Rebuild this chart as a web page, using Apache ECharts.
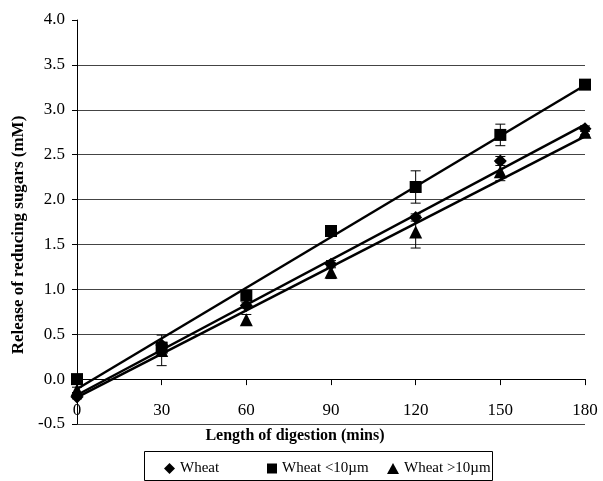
<!DOCTYPE html>
<html>
<head>
<meta charset="utf-8">
<script src="https://cdn.jsdelivr.net/npm/echarts@6/dist/echarts.min.js"></script>
<style>
  html, body { margin: 0; padding: 0; background: #fff; }
  #main { width: 603px; height: 481px; }
</style>
</head>
<body>
<div id="main"></div>
<script>
// digestion time (mins)
var times = [0, 30, 60, 90, 120, 150, 180];

// sugar release (mM)
var wheat      = [-0.2, 0.38, 0.82, 1.28, 1.80, 2.43, 2.79];
var wheatFine  = [0.0, 0.35, 0.93, 1.65, 2.14, 2.72, 3.28];
var wheatCoarse = [-0.12, 0.32, 0.66, 1.19, 1.64, 2.31, 2.75];

// error bar half-widths
var wheatErr       = [0.02, 0.03, 0.03, 0.04, 0.04, 0.05, 0.03];
var wheatFineErr   = [0.03, 0.03, 0.05, 0.04, 0.18, 0.12, 0.04];
var wheatCoarseErr = [0.03, 0.17, 0.06, 0.07, 0.18, 0.10, 0.03];

var yTicks = [-0.5, 0, 0.5, 1, 1.5, 2, 2.5, 3, 3.5, 4];

var names = ['Wheat', 'Wheat <10\u00b5m', 'Wheat >10\u00b5m'];
var FONT = 'Liberation Serif';

function pairs(ys) {
  return times.map(function (t, i) { return [t, ys[i]]; });
}

// least squares trend line between first and last time
function trend(ys) {
  var n = times.length, mx = 0, my = 0;
  for (var i = 0; i < n; i++) { mx += times[i]; my += ys[i]; }
  mx /= n; my /= n;
  var sxy = 0, sxx = 0;
  for (var j = 0; j < n; j++) {
    sxy += (times[j] - mx) * (ys[j] - my);
    sxx += (times[j] - mx) * (times[j] - mx);
  }
  var b = sxy / sxx, a = my - b * mx;
  var x0 = times[0], x1 = times[n - 1];
  return [[x0, a + b * x0], [x1, a + b * x1]];
}

function errData(ys, es) {
  return times.map(function (t, i) { return [t, ys[i] - es[i], ys[i] + es[i]]; });
}

function errSeries(ys, es) {
  return {
    type: 'custom',
    silent: true,
    z: 1,
    data: errData(ys, es),
    renderItem: function (params, api) {
      var lo = api.coord([api.value(0), api.value(1)]);
      var hi = api.coord([api.value(0), api.value(2)]);
      var w = 5;
      var st = { stroke: '#000', lineWidth: 1 };
      return {
        type: 'group',
        children: [
          { type: 'line', shape: { x1: lo[0], y1: lo[1], x2: hi[0], y2: hi[1] }, style: st },
          { type: 'line', shape: { x1: lo[0] - w, y1: lo[1], x2: lo[0] + w, y2: lo[1] }, style: st },
          { type: 'line', shape: { x1: hi[0] - w, y1: hi[1], x2: hi[0] + w, y2: hi[1] }, style: st }
        ]
      };
    }
  };
}

function trendSeries(ys) {
  return {
    type: 'line',
    data: trend(ys),
    symbol: 'none',
    silent: true,
    z: 2,
    lineStyle: { color: '#000', width: 2.5 }
  };
}

function pointSeries(name, ys, sym, size) {
  return {
    name: name,
    type: 'scatter',
    data: pairs(ys),
    symbol: sym,
    symbolSize: size,
    z: 3,
    itemStyle: { color: '#000', opacity: 1 }
  };
}

// last split line (4.0) left out, as in the picture
var gridColors = yTicks.map(function (v, i) { return i === yTicks.length - 1 ? 'rgba(0,0,0,0)' : '#444'; });

var legendStyle = { fontFamily: FONT, fontSize: 15, color: '#000' };

var option = {
  backgroundColor: '#fff',
  animation: false,
  textStyle: { fontFamily: FONT },
  grid: { left: 77, right: 18, top: 20, bottom: 57, outerBoundsMode: 'none', containLabel: false },
  xAxis: {
    type: 'value',
    min: 0, max: 180, interval: 30,
    name: 'Length of digestion (mins)',
    nameLocation: 'middle',
    nameGap: 4,
    nameTextStyle: {
      fontFamily: FONT, fontSize: 16, fontWeight: 'bold', color: '#000',
      verticalAlign: 'top', padding: [0, 72, 0, 0]
    },
    axisLine: { onZero: true, lineStyle: { color: '#000', width: 1 } },
    axisTick: { show: true, inside: false, length: 6, lineStyle: { color: '#000' } },
    axisLabel: { fontFamily: FONT, fontSize: 17, color: '#000', margin: -22 },
    splitLine: { show: false }
  },
  yAxis: {
    type: 'value',
    min: -0.5, max: 4, interval: 0.5,
    name: 'Release of reducing sugars (mM)',
    nameLocation: 'middle',
    nameGap: 48,
    nameTextStyle: {
      fontFamily: FONT, fontSize: 17, fontWeight: 'bold', color: '#000',
      padding: [0, 26, 0, 0]
    },
    axisLine: { show: true, lineStyle: { color: '#000', width: 1 } },
    axisTick: { show: true, inside: false, length: 5, lineStyle: { color: '#000' } },
    axisLabel: {
      fontFamily: FONT, fontSize: 17, color: '#000', margin: 12,
      formatter: function (v) { return v.toFixed(1); }
    },
    splitLine: { show: true, lineStyle: { color: gridColors, width: 1 } }
  },
  legend: [
    { data: [{ name: names[0], icon: 'diamond' }], left: 164, top: 461, itemWidth: 11, itemHeight: 11, itemGap: 0, padding: 0, textStyle: legendStyle, selectedMode: false },
    { data: [{ name: names[1], icon: 'rect' }], left: 267, top: 461, itemWidth: 10, itemHeight: 10, itemGap: 0, padding: 0, textStyle: legendStyle, selectedMode: false },
    { data: [{ name: names[2], icon: 'triangle' }], left: 387, top: 461, itemWidth: 12, itemHeight: 11, itemGap: 0, padding: 0, textStyle: legendStyle, selectedMode: false }
  ],
  graphic: [
    {
      type: 'rect',
      left: 142, top: 449,
      shape: { width: 348, height: 29 },
      style: { fill: 'none', stroke: '#000', lineWidth: 1 },
      z: -1
    }
  ],
  series: [
    errSeries(wheat, wheatErr),
    errSeries(wheatFine, wheatFineErr),
    errSeries(wheatCoarse, wheatCoarseErr),
    trendSeries(wheat),
    trendSeries(wheatFine),
    trendSeries(wheatCoarse),
    pointSeries(names[0], wheat, 'diamond', 13),
    pointSeries(names[1], wheatFine, 'rect', 12),
    pointSeries(names[2], wheatCoarse, 'triangle', 13)
  ]
};

echarts.init(document.getElementById('main')).setOption(option);
</script>
</body>
</html>
